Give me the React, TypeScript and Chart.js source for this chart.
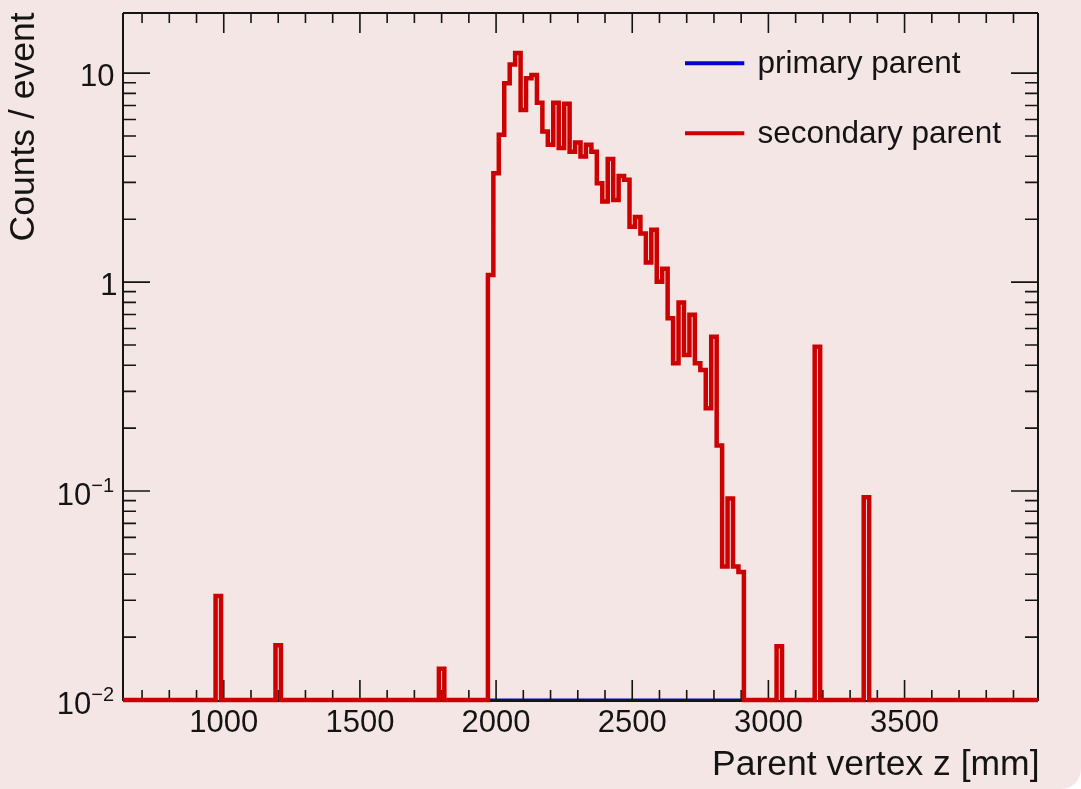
import React, { useEffect, useRef } from "react";
import { Chart, registerables } from "chart.js";

Chart.register(...registerables);

// ---- axis ranges / binning ----
const X_MIN = 630;
const X_MAX = 3990;
const Y_MIN = 0.01;
const Y_MAX = 19.4;
const BIN_WIDTH = 20;

// ---- secondary parent: main peak (20 mm bins starting at 1970 mm) ----
const MAIN_START = 1970;
const mainValues = [
  1.08, 3.32, 5.07, 8.95, 11.0, 12.47, 6.67, 9.46, 9.8, 7.22,
  5.25, 4.54, 7.22, 4.38, 7.13, 4.21, 4.65, 3.99, 4.54, 4.21,
  2.97, 2.43, 3.88, 2.47, 3.22, 3.09, 1.84, 2.05, 1.71, 1.24,
  1.78, 1.005, 1.157, 0.672, 0.409, 0.798, 0.448, 0.697, 0.409, 0.38,
  0.249, 0.548, 0.165, 0.0435, 0.092, 0.0435, 0.041,
];
// ---- secondary parent: isolated bins (low edge, mm) ----
const spikeLowEdges = [970, 1190, 1790, 3030, 3170, 3350];
const spikeValues = [0.0315, 0.0183, 0.0141, 0.0181, 0.49, 0.0935];

// ---- primary parent: empty bins over its range ----
const PRIMARY_START = 1970;
const PRIMARY_END = 2910;

// ---- ticks / labels ----
const xMajorTicks = [1000, 1500, 2000, 2500, 3000, 3500];
const X_MINOR_STEP = 100;
const yMajorTicks = [0.01, 0.1, 1, 10];
const yTickBase = ["10", "10", "1", "10"];
const yTickExp = ["\u22122", "\u22121", "", ""];

const X_TITLE = "Parent vertex z [mm]";
const Y_TITLE = "Counts / event";
const legendLabels = ["primary parent", "secondary parent"];
const legendColors = ["#0000cc", "#cc0000"];

const FONT = '"Liberation Sans", Arial, Helvetica, sans-serif';
const INK = "#141414";

type Pt = { x: number; y: number };

function stepPoints(lo: number, values: number[]): Pt[] {
  const pts: Pt[] = [];
  values.forEach((v, i) => {
    const a = lo + i * BIN_WIDTH;
    const y = v > Y_MIN ? v : Y_MIN;
    pts.push({ x: a, y }, { x: a + BIN_WIDTH, y });
  });
  return pts;
}

function buildSecondary(): number[] {
  const n = Math.round((X_MAX - X_MIN) / BIN_WIDTH);
  const counts = new Array(n).fill(0);
  const off = Math.round((MAIN_START - X_MIN) / BIN_WIDTH);
  mainValues.forEach((v, i) => (counts[off + i] = v));
  spikeLowEdges.forEach((e, i) => {
    counts[Math.round((e - X_MIN) / BIN_WIDTH)] = spikeValues[i];
  });
  return counts;
}

function buildPrimary(): number[] {
  const n = Math.round((PRIMARY_END - PRIMARY_START) / BIN_WIDTH);
  return new Array(n).fill(0);
}

const rootStyle = {
  id: "rootStyle",
  beforeDatasetDraw(chart: any, args: any) {
    if (args.index !== 0) return;
    const { ctx, chartArea } = chart;
    const { left, right, top, bottom } = chartArea;
    const xs = chart.scales.x;
    const ys = chart.scales.y;
    ctx.save();
    ctx.strokeStyle = INK;
    ctx.lineWidth = 2;
    ctx.beginPath();
    ctx.moveTo(left, top);
    ctx.lineTo(right, top);
    ctx.moveTo(right, top);
    ctx.lineTo(right, bottom + 1);
    ctx.moveTo(left, bottom + 1);
    ctx.lineTo(right, bottom + 1);
    ctx.moveTo(left, top);
    ctx.lineTo(left, bottom + 1);
    ctx.stroke();

    ctx.lineWidth = 1.6;
    ctx.beginPath();
    // x ticks (inward, bottom and top)
    for (let v = Math.ceil(X_MIN / X_MINOR_STEP) * X_MINOR_STEP; v <= X_MAX; v += X_MINOR_STEP) {
      const px = xs.getPixelForValue(v);
      const len = xMajorTicks.includes(v) ? 20 : 10;
      ctx.moveTo(px, bottom);
      ctx.lineTo(px, bottom - len);
      ctx.moveTo(px, top);
      ctx.lineTo(px, top + len);
    }
    // y ticks (log, inward, left and right)
    for (let e = -2; e <= 1; e++) {
      for (let m = 1; m <= 9; m++) {
        const v = m * Math.pow(10, e);
        if (v < Y_MIN * 0.999 || v > Y_MAX) continue;
        const py = ys.getPixelForValue(v);
        const len = m === 1 ? 27 : 13;
        ctx.moveTo(left, py);
        ctx.lineTo(left + len, py);
        ctx.moveTo(right, py);
        ctx.lineTo(right - len, py);
      }
    }
    ctx.stroke();
    ctx.restore();
  },
  afterDraw(chart: any) {
    const { ctx, chartArea } = chart;
    const { left, right, top, bottom } = chartArea;
    const xs = chart.scales.x;
    const ys = chart.scales.y;
    ctx.save();
    ctx.fillStyle = INK;
    ctx.textBaseline = "alphabetic";

    // x tick labels
    ctx.font = `31px ${FONT}`;
    ctx.textAlign = "center";
    xMajorTicks.forEach((v) => {
      ctx.fillText(String(v), xs.getPixelForValue(v), bottom + 31.5);
    });

    // y tick labels
    yMajorTicks.forEach((v, i) => {
      const py = ys.getPixelForValue(v);
      const exp = yTickExp[i];
      ctx.textAlign = "right";
      if (exp) {
        ctx.font = `20px ${FONT}`;
        const w = ctx.measureText(exp).width;
        ctx.fillText(exp, left - 9, py + 1);
        ctx.font = `31px ${FONT}`;
        ctx.fillText(yTickBase[i], left - 9 - w, py + 14);
      } else {
        ctx.font = `31px ${FONT}`;
        const shift = yTickBase[i] === "1" ? 3 : 0;
        ctx.fillText(yTickBase[i], left - 8.5 + shift, py + 12.5);
      }
    });

    // axis titles
    ctx.font = `35.5px ${FONT}`;
    ctx.textAlign = "right";
    ctx.fillText(X_TITLE, right + 1.5, 775);

    ctx.save();
    ctx.translate(33.5, top - 0.5);
    ctx.rotate(-Math.PI / 2);
    ctx.textAlign = "right";
    ctx.fillText(Y_TITLE, 0, 0);
    ctx.restore();

    // legend
    const rows = [63.3, 133.3];
    ctx.font = `31.5px ${FONT}`;
    ctx.textAlign = "left";
    legendLabels.forEach((lab, i) => {
      ctx.strokeStyle = legendColors[i];
      ctx.lineWidth = 4;
      ctx.beginPath();
      ctx.moveTo(685, rows[i]);
      ctx.lineTo(744.3, rows[i]);
      ctx.stroke();
      ctx.fillStyle = INK;
      ctx.fillText(lab, 757.5, rows[i] + 9.7);
    });
    ctx.restore();
  },
};

export default function App() {
  const canvasRef = useRef<HTMLCanvasElement | null>(null);

  useEffect(() => {
    const canvas = canvasRef.current;
    if (!canvas) return;
    const secondary = stepPoints(X_MIN, buildSecondary());
    const primary = stepPoints(PRIMARY_START, buildPrimary());
    const chart = new Chart(canvas, {
      type: "line",
      data: {
        datasets: [
          {
            label: legendLabels[1],
            data: secondary,
            borderColor: legendColors[1],
            borderWidth: 4.5,
            pointRadius: 0,
            fill: false,
            tension: 0,
            clip: false as any,
            borderJoinStyle: "miter",
          },
          {
            label: legendLabels[0],
            data: primary,
            borderColor: legendColors[0],
            borderWidth: 3,
            pointRadius: 0,
            fill: false,
            tension: 0,
            clip: false as any,
          },
        ],
      },
      options: {
        animation: false,
        responsive: false,
        devicePixelRatio: 1,
        events: [],
        layout: { padding: { left: 123, top: 13, right: 43, bottom: 89 } },
        scales: {
          x: { type: "linear", min: X_MIN, max: X_MAX, display: false },
          y: { type: "logarithmic", min: Y_MIN, max: Y_MAX, display: false },
        },
        plugins: {
          legend: { display: false },
          tooltip: { enabled: false },
        },
      },
      plugins: [rootStyle as any],
    });
    return () => chart.destroy();
  }, []);

  return (
    <div
      style={{
        position: "fixed",
        left: 0,
        top: 0,
        width: 1081,
        height: 789,
        background: "#f5e6e6",
        borderBottomRightRadius: 20,
        overflow: "hidden",
      }}
    >
      <canvas ref={canvasRef} width={1081} height={789} style={{ display: "block" }} />
    </div>
  );
}
